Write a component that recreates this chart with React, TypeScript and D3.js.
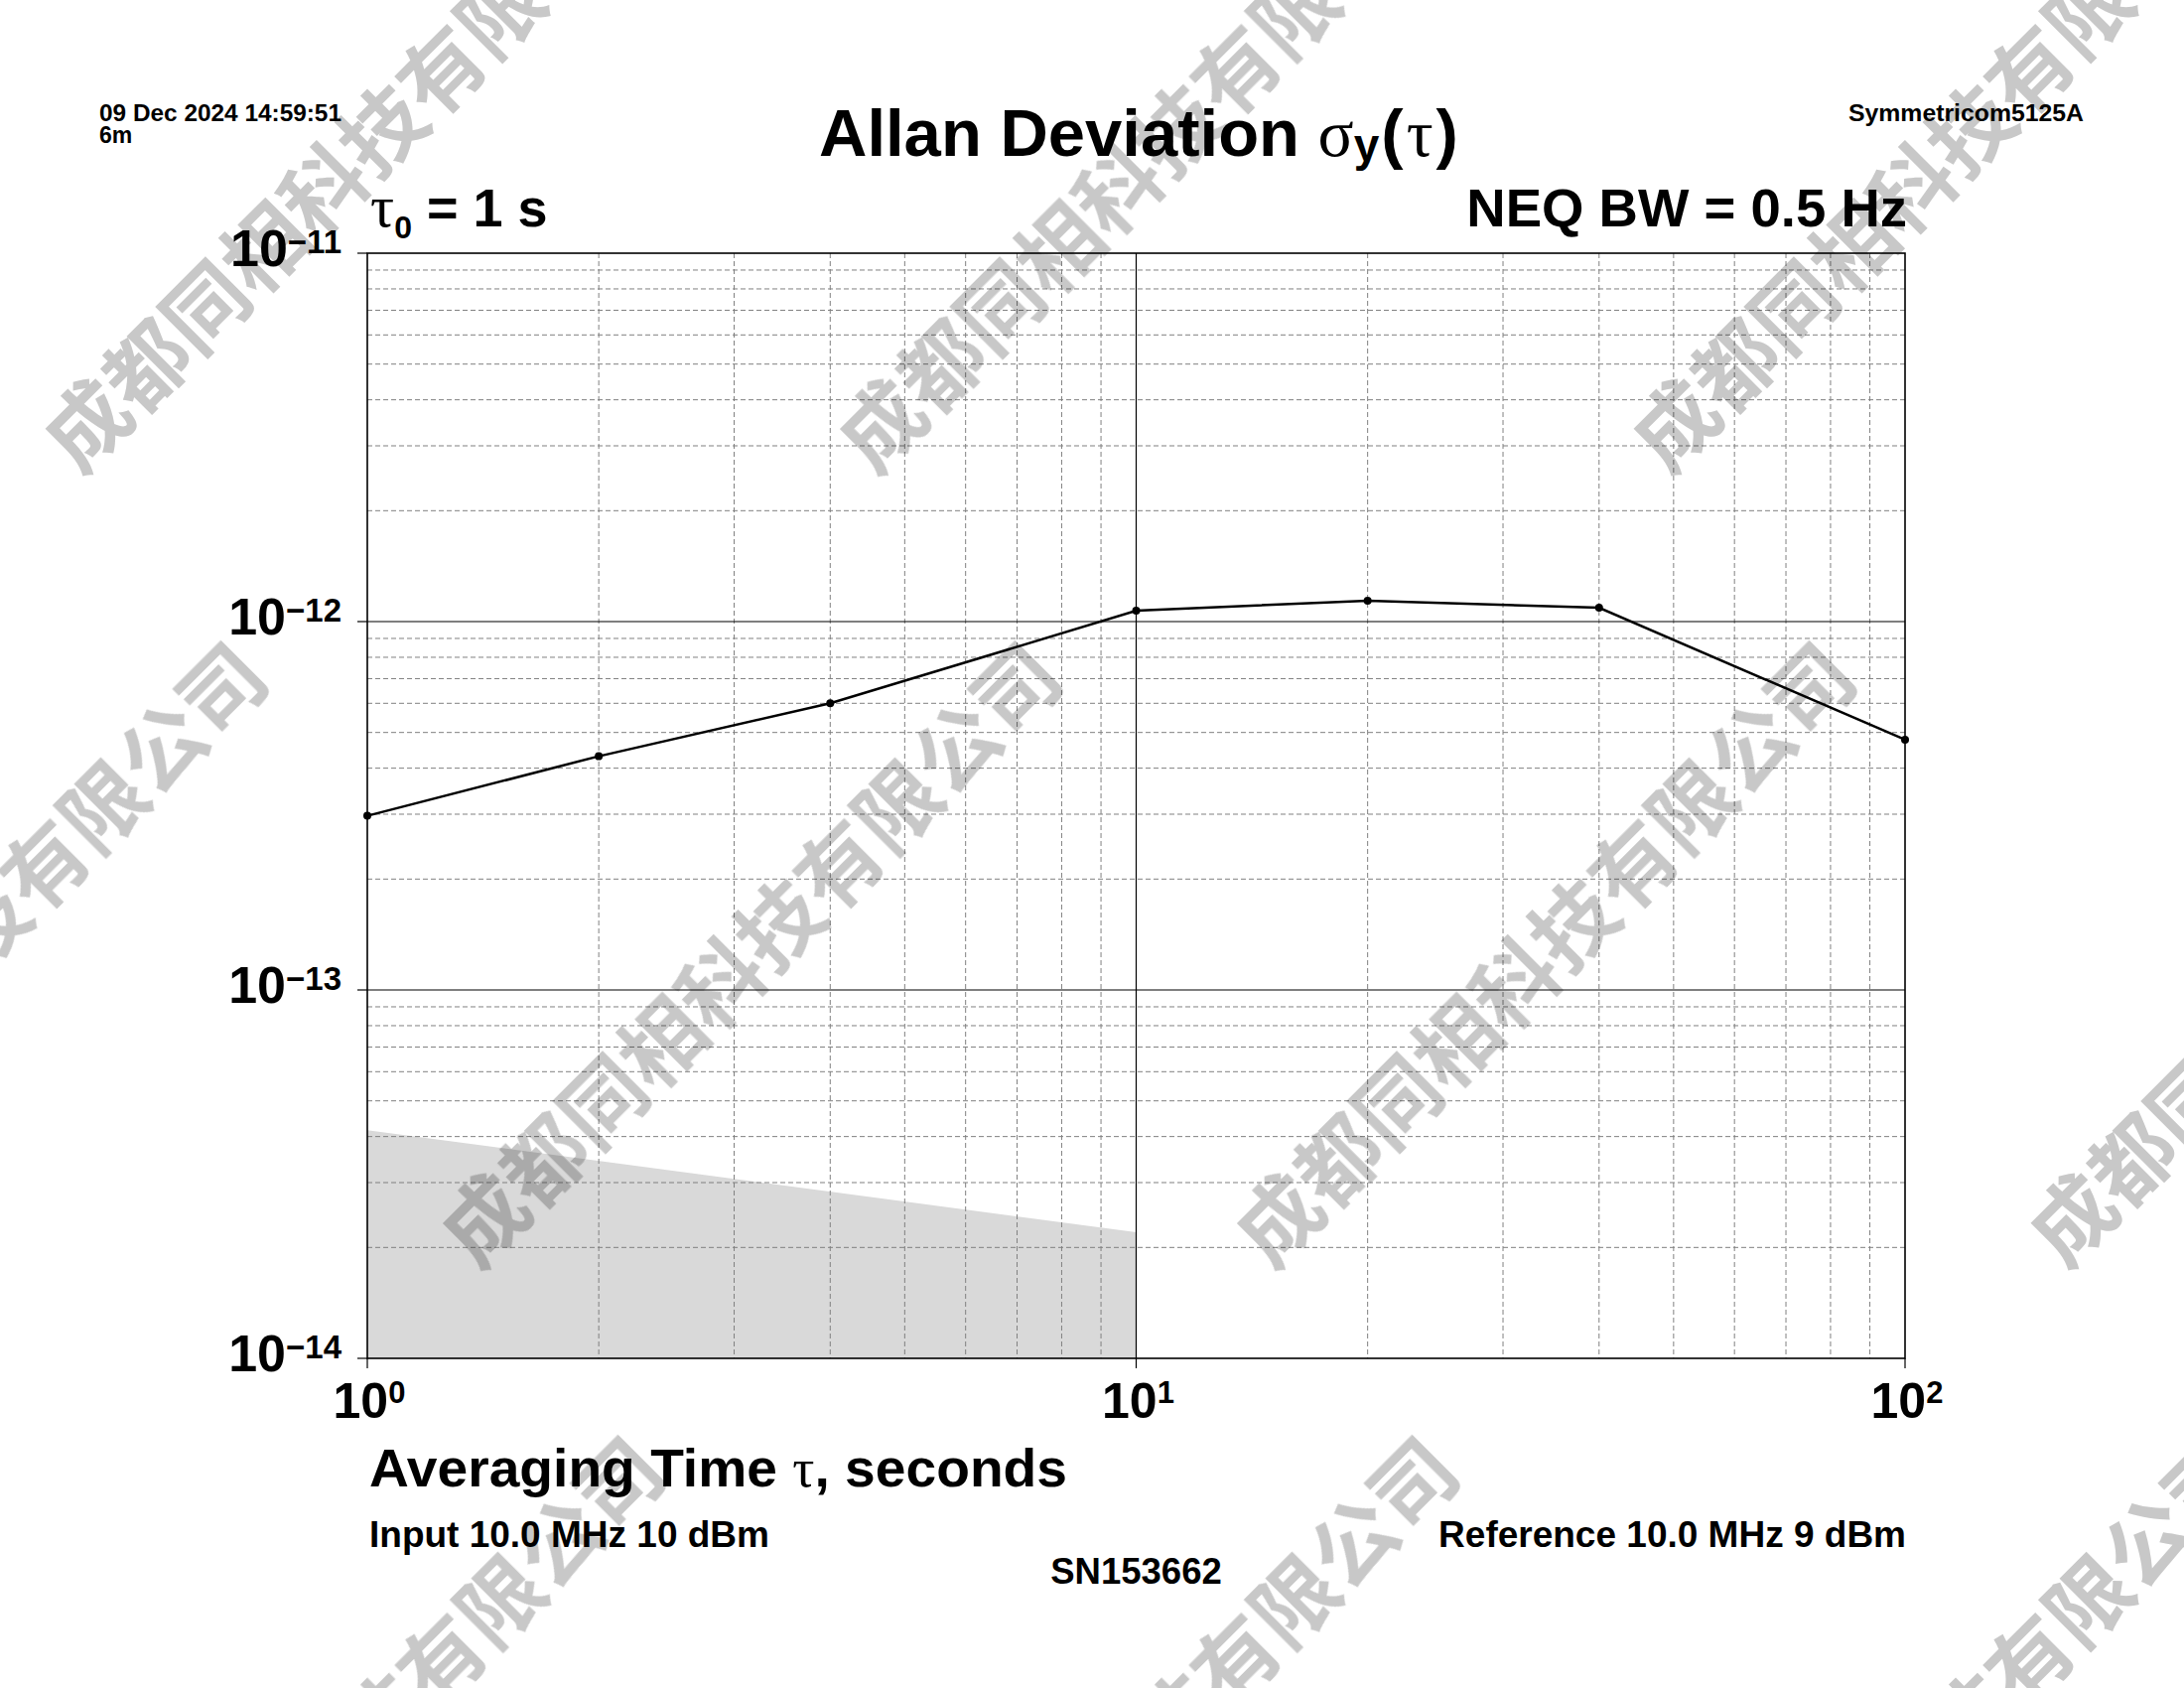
import React from 'react';
import * as d3 from 'd3';

// ---- data ----
const tau = [1, 2, 4, 10, 20, 40, 100];
const adev = [2.97e-13, 4.31e-13, 6.0e-13, 1.07e-12, 1.14e-12, 1.09e-12, 4.78e-13];
const floorTau = [1, 10];
const floorAdev = [4.16e-14, 2.2e-14];
const xDecades = [1, 10, 100];
const xExponents = ['0', '1', '2'];
const yDecades = [1e-11, 1e-12, 1e-13, 1e-14];
const yExponents = ['\u221211', '\u221212', '\u221213', '\u221214'];
const headerDate = '09 Dec 2024 14:59:51';
const headerDuration = '6m';
const instrument = 'Symmetricom5125A';
const inputText = 'Input 10.0 MHz 10 dBm';
const referenceText = 'Reference 10.0 MHz 9 dBm';
const serialText = 'SN153662';
const neqText = 'NEQ BW = 0.5 Hz';
const watermarkText = '成都同相科技有限公司';

const W = 2200;
const H = 1700;
const L = 370, R = 1919, T = 255, B = 1368;
const SANS = '"Liberation Sans", Arial, Helvetica, sans-serif';
const SERIF = '"Liberation Serif", "Times New Roman", serif';

const isDecade = (v: number) => Math.abs(Math.log10(v) - Math.round(Math.log10(v))) < 1e-6;

export default function App() {
  const x = d3.scaleLog().domain([1, 100]).range([L, R]);
  const y = d3.scaleLog().domain([1e-14, 1e-11]).range([B, T]);

  const xMinor = x.ticks().filter((v) => !isDecade(v));
  const yMinor = y.ticks().filter((v) => !isDecade(v));
  const xMajorInner = xDecades.filter((v) => v > 1 && v < 100);
  const yMajorInner = yDecades.filter((v) => v > 1e-14 && v < 1e-11);

  const floorData = floorTau.map((t, i) => [t, floorAdev[i]] as [number, number]);
  const area = d3
    .area<[number, number]>()
    .x((d) => x(d[0]))
    .y0(() => y(1e-14))
    .y1((d) => y(d[1]));

  const pts = tau.map((t, i) => [t, adev[i]] as [number, number]);
  const line = d3
    .line<[number, number]>()
    .x((d) => x(d[0]))
    .y((d) => y(d[1]));

  // watermark tiling centers
  const wm: { cx: number; cy: number }[] = [];
  for (let row = -1; row <= 3; row++) {
    for (let col = -1; col <= 3; col++) {
      const cx = 352 + col * 800 + (row % 2 !== 0 ? -400 : 0);
      const cy = 157 + row * 800;
      wm.push({ cx, cy });
    }
  }

  return (
    <svg
      width={W}
      height={H}
      style={{ position: 'absolute', left: 0, top: 0, display: 'block' }}
      fontFamily={SANS}
    >
      <rect x={0} y={0} width={W} height={H} fill="#ffffff" />

      {/* noise floor */}
      <path d={area(floorData) || ''} fill="#d9d9d9" stroke="none" />

      {/* minor grid */}
      <g stroke="#808080" strokeWidth={1} strokeDasharray="5,3">
        {xMinor.map((v) => (
          <line key={'xm' + v} x1={x(v)} x2={x(v)} y1={T} y2={B} />
        ))}
        {yMinor.map((v) => (
          <line key={'ym' + v} x1={L} x2={R} y1={y(v)} y2={y(v)} />
        ))}
      </g>

      {/* major grid */}
      <g stroke="#000" strokeWidth={1.2}>
        {xMajorInner.map((v) => (
          <line key={'xM' + v} x1={x(v)} x2={x(v)} y1={T} y2={B} />
        ))}
        {yMajorInner.map((v) => (
          <line key={'yM' + v} x1={L} x2={R} y1={y(v)} y2={y(v)} />
        ))}
        {/* ticks */}
        {yDecades.map((v) => (
          <line key={'yt' + v} x1={L - 10} x2={L} y1={y(v)} y2={y(v)} />
        ))}
        {xDecades.map((v) => (
          <line key={'xt' + v} x1={x(v)} x2={x(v)} y1={B} y2={B + 10} />
        ))}
      </g>

      {/* frame */}
      <rect x={L} y={T} width={R - L} height={B - T} fill="none" stroke="#000" strokeWidth={1.6} />

      {/* data */}
      <path d={line(pts) || ''} fill="none" stroke="#000" strokeWidth={2.5} />
      {pts.map((d, i) => (
        <circle key={'p' + i} cx={x(d[0])} cy={y(d[1])} r={4} fill="#000" />
      ))}

      {/* y labels */}
      {yDecades.map((v, i) => (
        <text key={'yl' + v} x={L - 26} y={y(v)} textAnchor="end" fontWeight="bold" fill="#000">
          <tspan fontSize={52} dy={13}>10</tspan>
          <tspan fontSize={33} dy={-13}>{yExponents[i]}</tspan>
        </text>
      ))}

      {/* x labels */}
      {xDecades.map((v, i) => (
        <text key={'xl' + v} x={x(v) + 2} y={B + 60} textAnchor="middle" fontWeight="bold" fill="#000">
          <tspan fontSize={50}>10</tspan>
          <tspan fontSize={31} dy={-15}>{xExponents[i]}</tspan>
        </text>
      ))}

      {/* header texts */}
      <text x={100} y={122} fontSize={23} fontWeight="bold" textLength={244} lengthAdjust="spacingAndGlyphs">
        {headerDate}
      </text>
      <text x={100} y={144} fontSize={23} fontWeight="bold">{headerDuration}</text>
      <text x={1862} y={122} fontSize={23} fontWeight="bold" textLength={237} lengthAdjust="spacingAndGlyphs">
        {instrument}
      </text>

      {/* title */}
      <text x={825} y={157} fontSize={67} fontWeight="bold" fill="#000">
        Allan Deviation{' '}
        <tspan fontFamily={SERIF} fontWeight="normal">σ</tspan>
        <tspan fontSize={46} dy={5}>y</tspan>
        <tspan dy={-5} dx={2}>(</tspan>
        <tspan fontFamily={SERIF} fontWeight="normal" dx={3}>τ</tspan>
        <tspan dx={3}>)</tspan>
      </text>

      {/* tau0 */}
      <text x={373} y={228} fontSize={54} fontWeight="bold">
        <tspan fontFamily={SERIF} fontWeight="normal" fontSize={60}>τ</tspan>
        <tspan fontSize={32} dy={12}>0</tspan>
        <tspan dy={-12}> = 1 s</tspan>
      </text>
      <text x={1921} y={228} fontSize={54.5} fontWeight="bold" textAnchor="end">{neqText}</text>

      {/* x axis title */}
      <text x={372} y={1497} fontSize={54} fontWeight="bold" textLength={703} lengthAdjust="spacingAndGlyphs">
        Averaging Time <tspan fontFamily={SERIF} fontWeight="normal">τ</tspan>, seconds
      </text>

      <text x={372} y={1558} fontSize={37} fontWeight="bold">{inputText}</text>
      <text x={1920} y={1558} fontSize={37} fontWeight="bold" textAnchor="end">{referenceText}</text>
      <text x={x(10)} y={1595} fontSize={36.5} fontWeight="bold" textAnchor="middle">{serialText}</text>

      {/* watermark */}
      <g
        style={{ mixBlendMode: 'multiply' }}
        fill="#c8c8c8"
        fontFamily='"Noto Sans CJK SC", sans-serif'
        fontWeight="bold"
        fontSize={84}
      >
        {wm.map((p, i) => (
          <text
            key={'wm' + i}
            x={0}
            y={0}
            textAnchor="middle"
            dominantBaseline="central"
            transform={`translate(${p.cx},${p.cy}) rotate(-45)`}
          >
            {watermarkText}
          </text>
        ))}
      </g>
    </svg>
  );
}
